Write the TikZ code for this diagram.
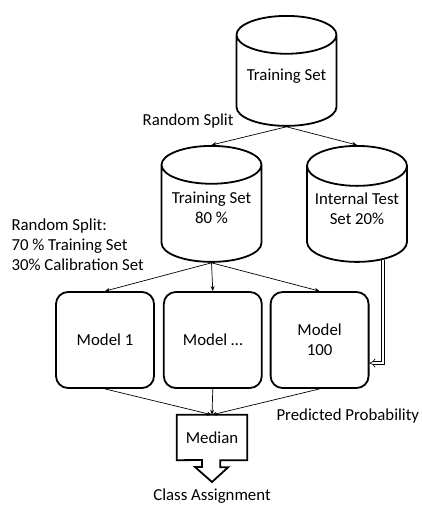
\documentclass[tikz,border=0pt]{standalone}
\usepackage{fontspec}
\setmainfont{Carlito}
\usetikzlibrary{positioning,shapes.geometric,arrows.meta}

\begin{document}
\begin{tikzpicture}[
x=1pt, y=-1pt,
font=\fontsize{16.8}{20}\selectfont,
dbnode/.style={cylinder, shape border rotate=90, draw, line width=1.8pt, aspect=0.44, minimum width=100pt, anchor=north, align=center, text depth=19pt},
modelnode/.style={rectangle, rounded corners=12pt, draw, line width=1.8pt, minimum width=98pt, minimum height=96pt, align=center},
mednode/.style={rectangle, minimum width=70pt, minimum height=45pt},
flow/.style={-{Stealth[length=5pt,width=4pt]}, line width=0.7pt},
dblflow/.style={double, double distance=2.6pt, line width=0.6pt, -{Implies}},
]
\useasboundingbox (0,0) rectangle (421,506);

% Defining the data sets
\node[dbnode, minimum height=110pt] (train) at (286.5,15) {Training Set};
\node[dbnode, minimum height=116pt] (train80) at (211.5,145) {Training Set\\80 \%};
\node[dbnode, minimum height=116pt] (test20) at (357,145) {Internal Test\\Set 20\%};

% Defining the models
\node[modelnode] (m1) at (105,340) {Model 1};
\node[modelnode] (mdots) [right=8pt of m1] {Model \ldots};
\node[modelnode] (m100) [right=7pt of mdots] {Model\\100};

% Median and its arrow
\node[mednode] (med) at (212,437.5) {Median};
\draw[line width=1.8pt, line join=miter] (med.south west) -- (med.north west) -- (med.north east) -- (med.south east)
  -- ++(-27,0) -- ++(0,7) -- ++(8,0) -- (212,482) -- (195,467) -- ++(7,0) -- ++(0,-7) -- cycle;

% Labels
\node[anchor=east] (split1) at (237,121) {Random Split};
\node[anchor=north west, align=left] (split2) at (8,215) {Random Split:\\70 \% Training Set\\30\% Calibration Set};
\node[anchor=west] (prob) at (273,416) {Predicted Probability};
\node (classlab) at (212,496) {Class Assignment};

% Random splits
\draw[flow] (train.south) -- (train80.north);
\draw[flow] (train.south) -- (test20.north);
\draw[flow] (train80.south) -- (m1.north);
\draw[flow] (train80.south) -- (mdots.north);
\draw[flow] (train80.south) -- (m100.north);

% Test set goes to the last model
\coordinate (pin) at (m100.east |- 0,363);
\draw[dblflow] (test20.-58) |- (pin);

% Predictions to the median
\draw[flow] (m1.south) -- (med.north);
\draw[flow] (mdots.south) -- (med.north);
\draw[flow] (m100.south) -- (med.north);

\end{tikzpicture}
\end{document}
